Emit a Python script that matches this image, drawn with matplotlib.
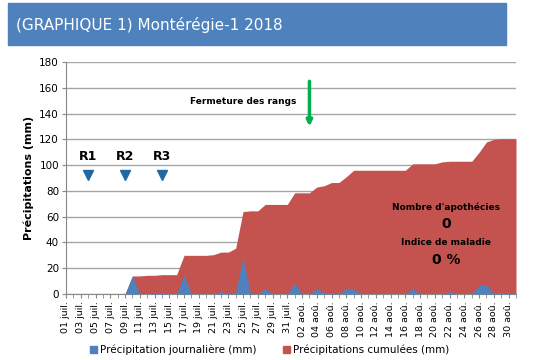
import matplotlib.pyplot as plt
from matplotlib.patches import Rectangle, Patch

# jours du 01 juil. au 31 aoû.
jours = [f'{d:02d} juil.' for d in range(1, 32)] + [f'{d:02d} aoû.' for d in range(1, 32)]

pluie_jour = [
    0, 0, 0, 0, 0, 0, 0, 0, 0, 14,
    0, 0, 0.5, 1, 0, 0, 14.5, 0, 0, 0,
    0, 2, 0, 1.5, 28, 0.5, 0, 4.5, 0, 0,
    0, 8.5, 0, 0, 4.5, 1, 1, 0, 4.5, 4,
    0, 0, 0, 0, 0, 0, 0, 4.5, 0, 0,
    0, 0, 2, 0, 0, 0, 7, 7, 1, 1,
    0.5, 0]

pluie_cumul = [
    0, 0, 0, 0, 0, 0, 0, 0, 0, 14,
    14, 14.5, 14.5, 15, 15, 15, 30, 30, 30, 30,
    30.5, 32.5, 32.5, 35.5, 64, 64.5, 64.5, 69.5, 69.5, 69.5,
    69.5, 78.5, 78.5, 78.5, 83, 84, 86.5, 86.5, 91, 96,
    96, 96, 96, 96, 96, 96, 96, 101, 101, 101,
    101, 102.5, 103, 103, 103, 103, 110, 118, 120, 120.5,
    120.5, 120.5]

releves = ['R1', 'R2', 'R3']
releves_jour = [3, 8, 13]
fermeture_jour = 33

BLEU = '#4F81BD'
ROUGE = '#C4534F'

x = list(range(len(jours)))

fig = plt.figure(figsize=(5.39, 3.6), dpi=100)

# bandeau titre
fig.patches.append(Rectangle((8 / 539, 1 - 45 / 360), 498 / 539, 42 / 360,
                             transform=fig.transFigure, color=BLEU, zorder=0))
fig.text(16 / 539, 1 - 25 / 360, '(GRAPHIQUE 1) Montérégie-1 2018', color='white',
         fontsize=11, va='center', ha='left')

ax = fig.add_axes([66 / 539, 66 / 360, 450 / 539, 232 / 360])
ax.fill_between(x, pluie_cumul, color=ROUGE, lw=0, zorder=2)
ax.fill_between(x, pluie_jour, color=BLEU, lw=0, zorder=3)

ax.set_xlim(0, len(jours) - 1)
ax.set_ylim(0, 180)
ax.set_yticks(range(0, 181, 20))
ax.tick_params(axis='y', labelsize=7.5, length=3, color='#888888', pad=2)
ax.yaxis.grid(True, color='#A6A6A6', lw=1)
ax.set_axisbelow(True)

ax.set_xticks(x[::2])
ax.set_xticklabels(jours[::2], rotation=90, fontsize=6.8)
ax.set_xticks(x, minor=True)
ax.tick_params(axis='x', which='both', length=3, color='#888888', pad=2)

for s in ['top', 'right']:
    ax.spines[s].set_visible(False)
for s in ['left', 'bottom']:
    ax.spines[s].set_color('#888888')

ax.set_ylabel('Précipitations (mm)', fontsize=8, fontweight='bold', labelpad=4)

# relevés
for nom, j in zip(releves, releves_jour):
    ax.text(j, 107, nom, ha='center', va='center', fontsize=9, fontweight='bold')
    ax.plot(j, 92, marker='v', color='#1F6AA5', markersize=7, zorder=5)

# fermeture des rangs
ax.annotate('', xy=(fermeture_jour, 130), xytext=(fermeture_jour, 165),
            arrowprops=dict(arrowstyle='-|>', color='#00B050', lw=2.5,
                            mutation_scale=8, shrinkA=0, shrinkB=0))
ax.text(24, 149.5, 'Fermeture des rangs', ha='center', va='center',
        fontsize=6.5, fontweight='bold')

# informations maladie
ax.text(51.5, 67, "Nombre d'apothécies", ha='center', va='center', fontsize=6.5, fontweight='bold')
ax.text(51.5, 54, '0', ha='center', va='center', fontsize=10, fontweight='bold')
ax.text(51.5, 40, 'Indice de maladie', ha='center', va='center', fontsize=6.5, fontweight='bold')
ax.text(51.5, 26, '0 %', ha='center', va='center', fontsize=10, fontweight='bold')

handles = [Patch(color=BLEU, label='Précipitation journalière (mm)'),
           Patch(color=ROUGE, label='Précipitations cumulées (mm)')]
fig.legend(handles=handles, loc='center', bbox_to_anchor=(0.5, 10 / 360), ncol=2,
           frameon=False, fontsize=7.5, handlelength=0.7, handleheight=0.7,
           handletextpad=0.3, columnspacing=2.5)

fig.savefig('out.png', dpi=100)
